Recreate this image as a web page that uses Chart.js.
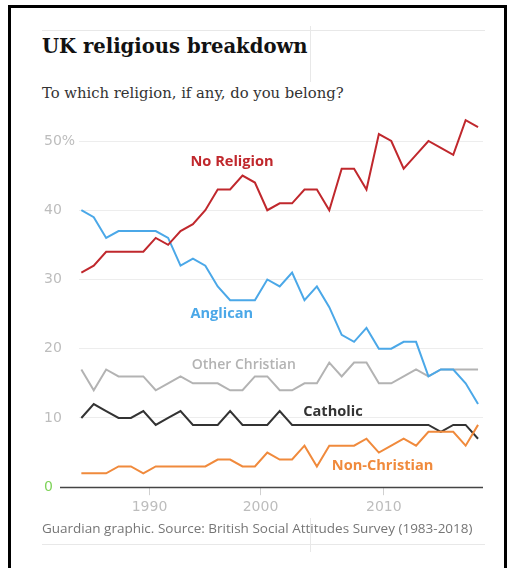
<!DOCTYPE html>
<html>
<head>
<meta charset="utf-8">
<script src="https://cdn.jsdelivr.net/npm/chart.js@4.4.1/dist/chart.umd.min.js"></script>
<style>
  body { margin: 0; background: #fff; width: 513px; height: 568px; overflow: hidden; position: relative; }
  #frame { position: absolute; left: 8px; top: 5px; width: 499px; height: 600px; border: 3px solid #000; border-bottom: none; box-sizing: border-box; }
  .rule { position: absolute; background: #e8e8e8; }
  #title { position: absolute; left: 42px; top: 35px; font: bold 19.6px "DejaVu Serif", serif; color: #121212; white-space: nowrap; }
  #subtitle { position: absolute; left: 42px; top: 84px; font: 14.8px "DejaVu Serif", serif; color: #333; white-space: nowrap; }
  #wrap { position: absolute; left: 0; top: 110px; width: 513px; height: 410px; }
  #source { position: absolute; left: 42px; top: 519px; font: 13.5px "Open Sans", sans-serif; color: #767676; white-space: nowrap; }
</style>
</head>
<body>
<div id="frame"></div>
<div class="rule" style="left:42px; top:30px; width:443px; height:1px;"></div>
<div class="rule" style="left:310px; top:26px; width:1px; height:56px;"></div>
<div id="title">UK religious breakdown</div>
<div id="subtitle">To which religion, if any, do you belong?</div>
<div id="wrap"><canvas id="chart"></canvas></div>
<div id="source">Guardian graphic. Source: British Social Attitudes Survey (1983-2018)</div>
<div class="rule" style="left:42px; top:544px; width:443px; height:1px;"></div>
<div class="rule" style="left:310px; top:518px; width:1px; height:34px;"></div>

<script>
// survey years (no survey in 1988, 1992, 1997)
const years = [1983, 1984, 1985, 1986, 1987, 1989, 1990, 1991, 1993, 1994, 1995, 1996,
  1998, 1999, 2000, 2001, 2002, 2003, 2004, 2005, 2006, 2007, 2008, 2009, 2010,
  2011, 2012, 2013, 2014, 2015, 2016, 2017, 2018];

const noReligion = [31, 32, 34, 34, 34, 34, 36, 35, 37, 38, 40, 43, 43, 45, 44, 40, 41,
  41, 43, 43, 40, 46, 46, 43, 51, 50, 46, 48, 50, 49, 48, 53, 52];
const anglican = [40, 39, 36, 37, 37, 37, 37, 36, 32, 33, 32, 29, 27, 27, 27, 30, 29,
  31, 27, 29, 26, 22, 21, 23, 20, 20, 21, 21, 16, 17, 17, 15, 12];
const otherChristian = [17, 14, 17, 16, 16, 16, 14, 15, 16, 15, 15, 15, 14, 14, 16, 16, 14,
  14, 15, 15, 18, 16, 18, 18, 15, 15, 16, 17, 16, 17, 17, 17, 17];
const catholic = [10, 12, 11, 10, 10, 11, 9, 10, 11, 9, 9, 9, 11, 9, 9, 9, 11,
  9, 9, 9, 9, 9, 9, 9, 9, 9, 9, 9, 9, 8, 9, 9, 7];
const nonChristian = [2, 2, 2, 3, 3, 2, 3, 3, 3, 3, 3, 4, 4, 3, 3, 5, 4,
  4, 6, 3, 6, 6, 6, 7, 5, 6, 7, 6, 8, 8, 8, 6, 9];

const tickLabels = ["1990", "2000", "2010"];

const series = [
  { label: "No Religion", values: noReligion, color: "#c0282d" },
  { label: "Anglican", values: anglican, color: "#4ba8e8" },
  { label: "Non-Christian", values: nonChristian, color: "#f08a3c" },
  { label: "Catholic", values: catholic, color: "#333333" },
  { label: "Other Christian", values: otherChristian, color: "#b3b3b3" }
];

// where each series name sits, in data units (survey index, percent)
const namePlacement = {
  "No Religion": [8.8, 47.0],
  "Anglican": [8.8, 25.0],
  "Other Christian": [8.9, 17.6],
  "Catholic": [17.9, 10.9],
  "Non-Christian": [20.2, 3.1]
};

const seriesNames = {
  id: "seriesNames",
  afterDatasetsDraw(chart) {
    const { ctx, scales } = chart;
    ctx.save();
    ctx.textAlign = "left";
    ctx.textBaseline = "middle";
    series.forEach((s) => {
      const p = namePlacement[s.label];
      ctx.font = s.label === "Other Christian"
        ? "600 14px 'Open Sans', sans-serif"
        : "bold 14.6px 'Open Sans', sans-serif";
      ctx.fillStyle = s.color;
      ctx.fillText(s.label, scales.x.getPixelForValue(p[0]), scales.y.getPixelForValue(p[1]));
    });
    ctx.restore();
  }
};

// zero line runs a little further left than the grid
const baseline = {
  id: "baseline",
  beforeDatasetsDraw(chart) {
    const { ctx, chartArea, scales } = chart;
    const y = Math.round(scales.y.getPixelForValue(0)) + 0.5;
    ctx.save();
    ctx.strokeStyle = "#444";
    ctx.lineWidth = 1.5;
    ctx.beginPath();
    ctx.moveTo(60, y);
    ctx.lineTo(chartArea.right, y);
    ctx.stroke();
    ctx.restore();
  }
};

new Chart(document.getElementById("chart"), {
  type: "line",
  data: {
    labels: years,
    datasets: series.map((s) => ({
      label: s.label,
      data: s.values.map((v, i) => ({ x: i, y: v })),
      borderColor: s.color,
      borderWidth: 2,
      pointRadius: 0,
      tension: 0,
      fill: false,
      clip: false
    }))
  },
  options: {
    responsive: true,
    maintainAspectRatio: false,
    animation: false,
    layout: { padding: { left: 44, right: 30, top: 31, bottom: 0 } },
    plugins: {
      legend: { display: false },
      tooltip: { enabled: false }
    },
    scales: {
      x: {
        type: "linear",
        min: -0.18,
        max: 32.4,
        afterBuildTicks: (scale) => {
          scale.ticks = [5.5, 14.45, 24.4].map((v) => ({ value: v }));
        },
        ticks: {
          callback: (v, i) => tickLabels[i],
          color: "#bdbdbd",
          font: { family: "DejaVu Sans", size: 14 },
          padding: 4,
          maxRotation: 0,
          autoSkip: false
        },
        grid: { drawOnChartArea: false, tickLength: 8, color: "#d0d0d0" },
        border: { display: false }
      },
      y: {
        min: 0,
        max: 50,
        ticks: {
          stepSize: 10,
          padding: 2,
          crossAlign: "far",
          color: (c) => (c.tick.value === 0 ? "#7fd35a" : "#bdbdbd"),
          font: { family: "DejaVu Sans", size: 14 },
          callback: (v) => (v === 50 ? "50%" : v)
        },
        grid: {
          color: (c) => (c.tick.value === 0 ? "rgba(0,0,0,0)" : "#ededed"),
          drawTicks: false
        },
        border: { display: false }
      }
    }
  },
  plugins: [baseline, seriesNames]
});
</script>
</body>
</html>
